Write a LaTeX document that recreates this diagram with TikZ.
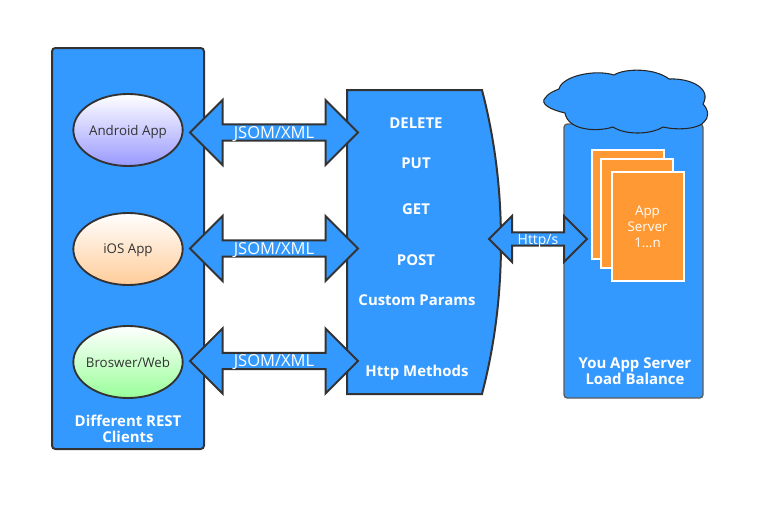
\documentclass[tikz,border=0pt]{standalone}
\usepackage{fontspec}
\setmainfont{Open Sans}
\usetikzlibrary{positioning,shapes.geometric,shapes.arrows}
\definecolor{panelblue}{RGB}{51,153,255}
\definecolor{edgegray}{RGB}{51,51,51}
\definecolor{pageorange}{RGB}{255,153,51}
\tikzset{
  panel/.style={draw=edgegray,fill=panelblue,line width=1.5pt,rounded corners=2.5pt,inner sep=0pt,outer sep=0pt},
  client/.style={ellipse,draw=edgegray,line width=1.4pt,minimum width=82pt,minimum height=54pt,inner ysep=0pt,inner xsep=-14pt,top color=white,text=edgegray,text depth=0pt,font=\fontsize{10}{12}\selectfont},
  link/.style={double arrow,draw=edgegray,fill=panelblue,line width=1.5pt,double arrow head extend=15.75pt,minimum width=48.75pt,minimum height=126pt,inner sep=0pt,outer sep=0pt,text=white,text depth=0pt,font=\fontsize{12.4}{14}\selectfont},
  method/.style={text=white,text depth=0pt,font=\bfseries\fontsize{11.2}{12}\selectfont,inner sep=0pt},
  pagebox/.style={draw=white,fill=pageorange,line width=1.5pt,minimum width=54pt,minimum height=80pt,inner sep=0pt,outer sep=0pt,text=white,align=center,font=\fontsize{10}{12}\selectfont},
}
\begin{document}
\begin{tikzpicture}[x=0.75pt,y=-0.75pt]
  \useasboundingbox (0,0) rectangle (772,511);
  \node[panel,minimum width=114pt,minimum height=300.75pt] (clients) at (128,248.5) {};
  \node[panel,draw=edgegray!80,line width=1pt,minimum width=104.25pt,minimum height=205.5pt] (servers) at (633.5,261) {};
  \draw[draw=edgegray,fill=panelblue,line width=1.5pt] (347,90) -- (482,90)
    .. controls (495,140) and (501,190) .. (501,242)
    .. controls (501,294) and (495,344) .. (482,394) -- (347,394) -- cycle;
  \draw[draw=black!85,fill=panelblue,line width=0.8pt] (559,89)
    .. controls (562,76) and (595,69) .. (614,75)
    .. controls (625,68) and (655,68) .. (669,79)
    .. controls (690,78) and (712,88) .. (703,104)
    .. controls (709,110) and (709,118) .. (704,122)
    .. controls (700,128) and (680,131) .. (663,127)
    .. controls (650,135) and (625,135) .. (613,127)
    .. controls (598,132) and (568,131) .. (565,113)
    .. controls (552,110) and (538,104) .. (546,97)
    .. controls (549,93) and (554,91) .. (559,89) -- cycle;
  \node[pagebox,minimum height=81.75pt] (pagea) at (627.5,204.5) {};
  \node[pagebox,minimum height=81.75pt] (pageb) at (637,213.5) {};
  \node[pagebox,minimum height=81.75pt] (pagec) at (647.5,226.5) {App\\Server\\1...n};
  \node[client,bottom color=blue!40!white] (android) at (128,130) {Android App};
  \node[client,bottom color=orange!40!white] (ios) at (128,249) {iOS App};
  \node[client,bottom color=green!40!white] (web) at (128,362) {Broswer/Web};
  \foreach \y/\name in {132.5/one, 248.5/two, 361/three}
    \node[link] (json\name) at (274,\y) {JSOM/XML};
  \node[link,font=\fontsize{10.5}{12}\selectfont,minimum width=34.5pt,minimum height=73.5pt,double arrow head extend=11.25pt] (http) at (538,239) {Http/s};
  \node[method] (delete) at (416,123.5) {DELETE};
  \node[method] (put) at (416,163.5) {PUT};
  \node[method] (get) at (416,209.5) {GET};
  \node[method] (post) at (416,260.5) {POST};
  \node[method] (custom) at (417,300.5) {Custom Params};
  \node[method] (verbs) at (417,370.5) {Http Methods};
  \node[method,align=center] (clientlab) at (128,429) {Different REST\\Clients};
  \node[method,align=center] (serverlab) at (635,371) {You App Server\\Load Balance};
\end{tikzpicture}
\end{document}
